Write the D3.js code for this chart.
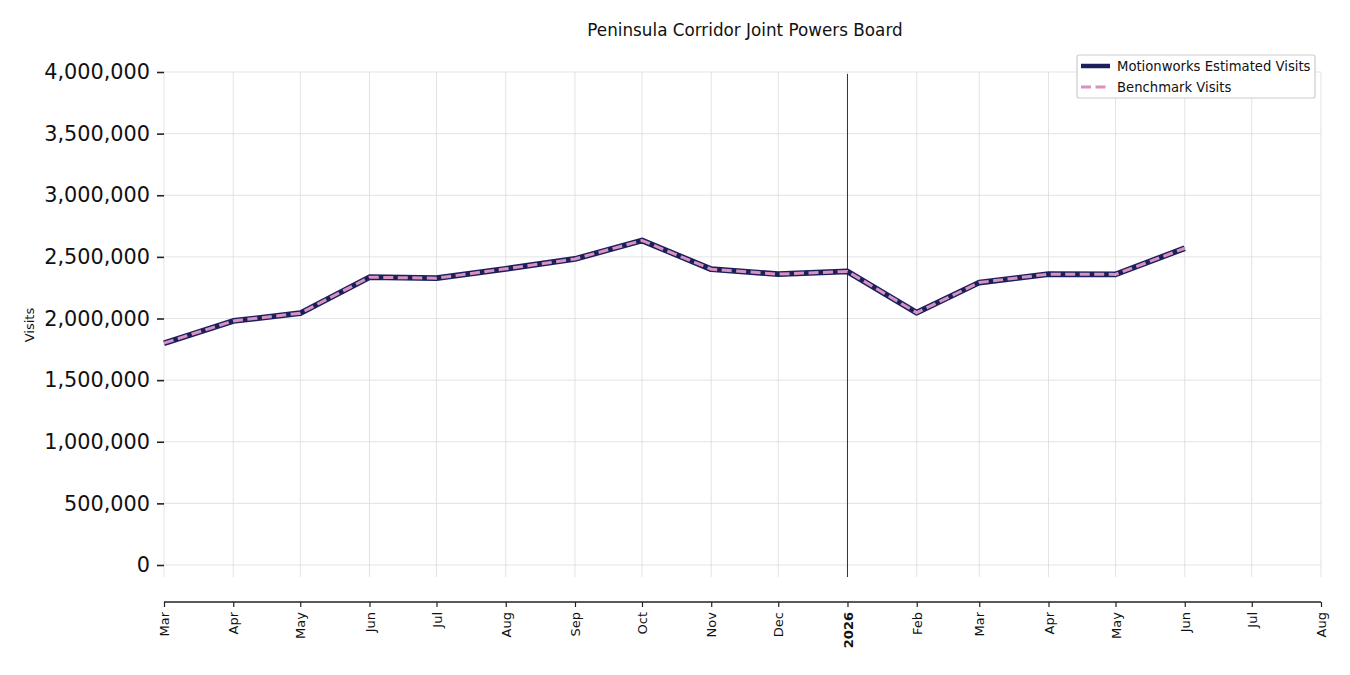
<!DOCTYPE html>
<html><head><meta charset="utf-8">
<script src="https://cdn.jsdelivr.net/npm/d3@7"></script>
<style>body{margin:0;background:#fff;font-family:"DejaVu Sans",sans-serif;}</style>
</head><body><svg id="c" width="1350" height="675"></svg>
<script>
const months = ["2025-03","2025-04","2025-05","2025-06","2025-07","2025-08","2025-09","2025-10","2025-11","2025-12","2026-01","2026-02","2026-03","2026-04","2026-05","2026-06"];
const motionworks = [1800000,1980000,2043000,2335000,2327000,2403000,2483000,2633000,2400000,2360000,2382000,2047000,2292000,2360000,2358000,2570000];
const benchmark   = [1800000,1980000,2043000,2335000,2327000,2403000,2483000,2633000,2400000,2360000,2382000,2047000,2292000,2360000,2358000,2570000];
const yTicks = [0,500000,1000000,1500000,2000000,2500000,3000000,3500000,4000000];
const title = "Peninsula Corridor Joint Powers Board";
const seriesNames = ["Motionworks Estimated Visits","Benchmark Visits"];

const parse = d3.timeParse("%Y-%m");
const svg = d3.select("#c");
const L=164,R=1321,T=72,B=577;
const x = d3.scaleTime().domain([new Date(2025,2,1), new Date(2026,7,1)]).range([L,R]);
const y = d3.scaleLinear().domain([0,4000000]).range([565,72]);
const xTicks = d3.timeMonth.range(new Date(2025,2,1), new Date(2026,7,2));

// grid
svg.append("g").selectAll("line").data(yTicks).join("line")
  .attr("x1",L).attr("x2",R).attr("y1",d=>y(d)).attr("y2",d=>y(d))
  .attr("stroke","#dcdcdc").attr("stroke-width",0.8);
svg.append("g").selectAll("line").data(xTicks).join("line")
  .attr("x1",d=>x(d)).attr("x2",d=>x(d)).attr("y1",T).attr("y2",B)
  .attr("stroke","#dcdcdc").attr("stroke-width",0.8);

// y axis
const ya = svg.append("g").attr("transform",`translate(${L},0)`)
  .call(d3.axisLeft(y).tickValues(yTicks).tickFormat(d3.format(",")).tickSize(7).tickPadding(7));
ya.select(".domain").remove();
ya.selectAll("line").attr("stroke","#222").attr("stroke-width",1.6);
ya.selectAll("text").attr("font-family","DejaVu Sans").attr("font-size",20.8).attr("fill","#111");

// x axis
const xa = svg.append("g").attr("transform",`translate(0,602)`)
  .call(d3.axisBottom(x).tickValues(xTicks).tickSize(5).tickFormat(d=> d.getMonth()===0 ? d3.timeFormat("%Y")(d) : d3.timeFormat("%b")(d)));
xa.select(".domain").attr("stroke","#222").attr("stroke-width",1.6).attr("d",`M${L},0H${R}`);
xa.selectAll("line").attr("stroke","#222").attr("stroke-width",1.2);
xa.selectAll("text").attr("font-family","DejaVu Sans").attr("font-size",13).attr("fill","#111")
  .attr("transform","rotate(-90)").attr("text-anchor","end").attr("dy","0.35em").attr("x",-10).attr("y",0)
  .attr("font-weight",d=>d.getMonth()===0?"bold":"normal");

// year line
svg.append("line").attr("x1",x(new Date(2026,0,1))).attr("x2",x(new Date(2026,0,1)))
  .attr("y1",74).attr("y2",B).attr("stroke","#333").attr("stroke-width",1);

const line = d3.line().x((d,i)=>x(parse(months[i]))).y(d=>y(d));
svg.append("path").attr("d",line(motionworks)).attr("fill","none").attr("stroke","#1b1f5c")
  .attr("stroke-width",5.8).attr("stroke-linejoin","round");
svg.append("path").attr("d",line(benchmark)).attr("fill","none").attr("stroke","#d992bf")
  .attr("stroke-width",3).attr("stroke-dasharray","10,4.5");

// title & y label
svg.append("text").attr("x",745).attr("y",36).attr("text-anchor","middle")
  .attr("font-size",16.8).attr("fill","#111").text(title);
svg.append("text").attr("transform","translate(34,325) rotate(-90)").attr("text-anchor","middle")
  .attr("font-size",13).attr("fill","#111").text("Visits");

// legend
const lg = svg.append("g");
lg.append("rect").attr("x",1077).attr("y",55).attr("width",238).attr("height",43).attr("rx",2)
  .attr("fill","#fff").attr("stroke","#ccc").attr("stroke-width",1.2);
lg.append("line").attr("x1",1081).attr("x2",1110).attr("y1",66).attr("y2",66).attr("stroke","#1b1f5c").attr("stroke-width",4.5);
lg.append("line").attr("x1",1081).attr("x2",1110).attr("y1",87).attr("y2",87).attr("stroke","#d992bf").attr("stroke-width",2.8).attr("stroke-dasharray","10,4.5");
lg.selectAll("text.l").data(seriesNames).join("text").attr("class","l")
  .attr("x",1117).attr("y",(d,i)=>71+i*21).attr("font-size",13.2).attr("fill","#111").text(d=>d);
</script></body></html>
